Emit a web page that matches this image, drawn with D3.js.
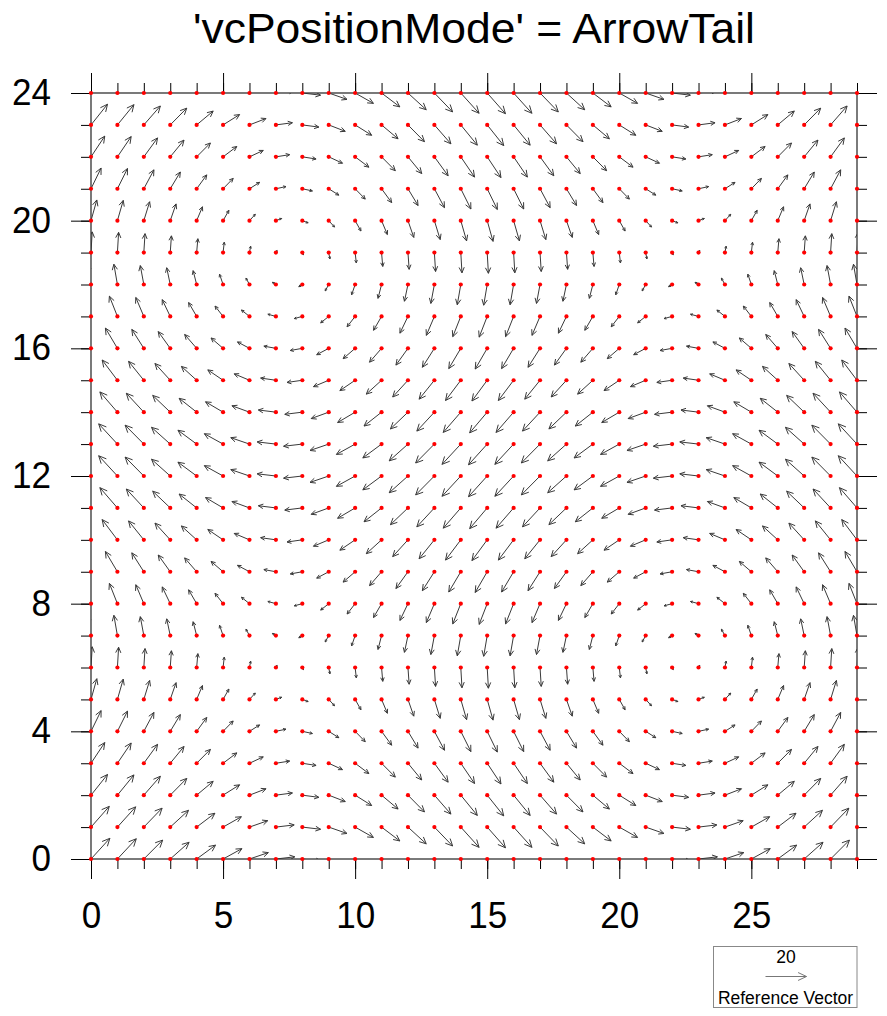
<!DOCTYPE html>
<html><head><meta charset="utf-8">
<script src="https://cdn.jsdelivr.net/npm/d3@7"></script>
<style>body{margin:0;background:#fff} svg{display:block}</style>
</head><body>
<svg id="c" width="887" height="1016"></svg>
<script>
// ---- data ----
const title = "'vcPositionMode' = ArrowTail";
const xIndex = [0,1,2,3,4,5,6,7,8,9,10,11,12,13,14,15,16,17,18,19,20,21,22,23,24,25,26,27,28,29];
const yIndex = [0,1,2,3,4,5,6,7,8,9,10,11,12,13,14,15,16,17,18,19,20,21,22,23,24];
// u component along each row (y index), v component along each column (x index)
const uRow = [9.20, 8.91, 8.06, 6.71, 4.93, 2.84, 0.58, -1.72, -3.92, -5.86, -7.44, -8.55, -9.13,
              -9.13, -8.55, -7.44, -5.86, -3.92, -1.72, 0.58, 2.84, 4.93, 6.71, 8.06, 8.91];
const vCol = [10.10, 9.88, 9.23, 8.17, 6.76, 5.05, 3.12, 1.06, -1.06, -3.12, -5.05, -6.76, -8.17, -9.23, -9.88,
              -10.10, -9.88, -9.23, -8.17, -6.76, -5.05, -3.12, -1.06, 1.06, 3.12, 5.05, 6.76, 8.17, 9.23, 9.88];
const xMajorTicks = [0,5,10,15,20,25];
const yMajorTicks = [0,4,8,12,16,20,24];
const refMagnitude = 20;
const refLabel = "Reference Vector";

// ---- layout ----
const svg = d3.select("#c");
const L = 91, R = 857, T = 93, B = 859;
const x = d3.scaleLinear().domain([0,29]).range([L,R]);
const y = d3.scaleLinear().domain([0,24]).range([B,T]);
const refLenPx = 41;
const mag = d3.scaleLinear().domain([0, refMagnitude]).range([0, refLenPx]);
const FONT = "'Liberation Sans', Arial, Helvetica, sans-serif";
const LBL = 36;

svg.append("rect").attr("width",887).attr("height",1016).attr("fill","#fff");

// title
svg.append("text").attr("x", (L+R)/2).attr("y", 43).attr("text-anchor","middle")
  .attr("font-family", FONT).attr("font-size", 42)
  .attr("textLength", 562).attr("lengthAdjust","spacingAndGlyphs")
  .text(title);

// vectors
const defs = svg.append("defs");
defs.append("clipPath").attr("id","clip").append("rect")
  .attr("x",L).attr("y",T).attr("width",R-L).attr("height",B-T);

const pts = [];
yIndex.forEach(j => xIndex.forEach(i => pts.push({i, j, u: uRow[j], v: vCol[i]})));

function arrowPath(x0, y0, dx, dy) {
  const len = Math.hypot(dx, dy);
  if (len < 0.3) return "";
  const x1 = x0 + dx, y1 = y0 + dy;
  const h = Math.min(9.3, Math.max(2.5, 0.3 * len));
  const ang = Math.atan2(dy, dx), a = 0.44;
  const bx1 = x1 - h*Math.cos(ang - a), by1 = y1 - h*Math.sin(ang - a);
  const bx2 = x1 - h*Math.cos(ang + a), by2 = y1 - h*Math.sin(ang + a);
  return `M${x0},${y0}L${x1},${y1}M${bx1},${by1}L${x1},${y1}L${bx2},${by2}`;
}

svg.append("g").attr("clip-path","url(#clip)")
  .selectAll("path").data(pts).join("path")
  .attr("d", d => arrowPath(x(d.i), y(d.j), mag(d.u), -mag(d.v)))
  .attr("fill","none").attr("stroke","#3a3a3a").attr("stroke-width",1);

// axes
const minorX = xIndex, minorY = yIndex;
function styleAxis(g){ g.select(".domain").remove(); g.selectAll("line").attr("stroke","#000").attr("stroke-width",1); }
function styleLabels(sel){
  sel.attr("font-family",FONT).attr("font-size",LBL).attr("fill","#000")
     .attr("textLength", function(){ return this.textContent.length * 19.5; })
     .attr("lengthAdjust","spacingAndGlyphs");
}
svg.append("g").attr("transform",`translate(0,${B})`)
  .call(d3.axisBottom(x).tickValues(minorX).tickSize(10).tickFormat("")).call(styleAxis);
svg.append("g").attr("transform",`translate(0,${B})`)
  .call(d3.axisBottom(x).tickValues(xMajorTicks).tickSize(20).tickPadding(23).tickFormat(d3.format("d")))
  .call(styleAxis)
  .selectAll("text").call(styleLabels);
svg.append("g").attr("transform",`translate(0,${T})`)
  .call(d3.axisTop(x).tickValues(minorX).tickSize(10).tickFormat("")).call(styleAxis);
svg.append("g").attr("transform",`translate(0,${T})`)
  .call(d3.axisTop(x).tickValues(xMajorTicks).tickSize(20).tickFormat("")).call(styleAxis);
svg.append("g").attr("transform",`translate(${L},0)`)
  .call(d3.axisLeft(y).tickValues(minorY).tickSize(10).tickFormat("")).call(styleAxis);
svg.append("g").attr("transform",`translate(${L},0)`)
  .call(d3.axisLeft(y).tickValues(yMajorTicks).tickSize(20).tickPadding(20).tickFormat(d3.format("d")))
  .call(styleAxis)
  .selectAll("text").call(styleLabels);
svg.append("g").attr("transform",`translate(${R},0)`)
  .call(d3.axisRight(y).tickValues(minorY).tickSize(10).tickFormat("")).call(styleAxis);
svg.append("g").attr("transform",`translate(${R},0)`)
  .call(d3.axisRight(y).tickValues(yMajorTicks).tickSize(20).tickFormat("")).call(styleAxis);

svg.append("rect").attr("x",L).attr("y",T).attr("width",R-L).attr("height",B-T)
  .attr("fill","none").attr("stroke","#333").attr("stroke-width",1.3);

// grid points
svg.append("g").selectAll("circle").data(pts).join("circle")
  .attr("cx", d => x(d.i)).attr("cy", d => y(d.j)).attr("r", 2.1).attr("fill", "#ff0000");

// reference vector annotation
const ann = svg.append("g");
ann.append("rect").attr("x",713.5).attr("y",946.5).attr("width",143.5).attr("height",61)
  .attr("fill","#fff").attr("stroke","#888").attr("stroke-width",1);
ann.append("text").attr("x",786).attr("y",963).attr("text-anchor","middle")
  .attr("font-family",FONT).attr("font-size",17.5).text(d3.format("d")(refMagnitude));
ann.append("path").attr("d", arrowPath(786 - mag(refMagnitude)/2, 976.5, mag(refMagnitude), 0))
  .attr("fill","none").attr("stroke","#777").attr("stroke-width",1);
ann.append("text").attr("x",785.5).attr("y",1004).attr("text-anchor","middle")
  .attr("font-family",FONT).attr("font-size",17.5).text(refLabel);
</script>
</body></html>
